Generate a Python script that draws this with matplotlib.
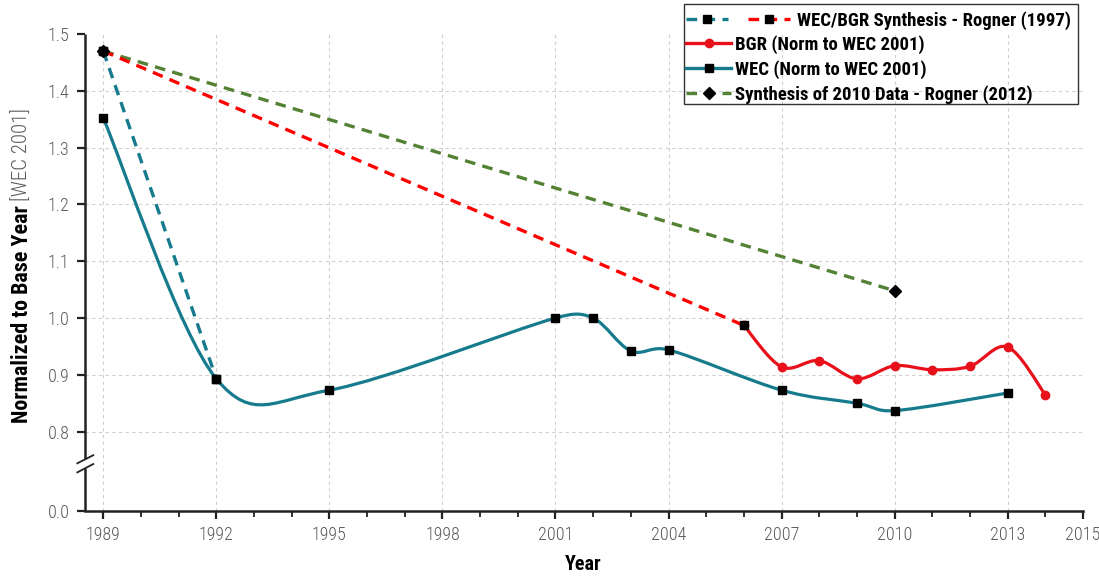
import numpy as np
import matplotlib
matplotlib.use('Agg')
import matplotlib.pyplot as plt
from matplotlib.path import Path
from matplotlib.patches import PathPatch, Rectangle
from matplotlib.lines import Line2D
from matplotlib.legend_handler import HandlerTuple

plt.rcParams['font.family'] = ['Roboto Condensed', 'Roboto', 'DejaVu Sans']

# --- data ---
wec_years = [1989, 1992, 1995, 2001, 2002, 2003, 2004, 2007, 2009, 2010, 2013]
wec_vals = [1.352, 0.893, 0.873, 1.000, 1.000, 0.942, 0.944, 0.873, 0.850, 0.837, 0.868]

bgr_years = [2006, 2007, 2008, 2009, 2010, 2011, 2012, 2013, 2014]
bgr_vals = [0.987, 0.914, 0.925, 0.893, 0.916, 0.909, 0.915, 0.949, 0.865]

syn97_wec_years = [1989, 1992]
syn97_wec_vals = [1.470, 0.893]
syn97_bgr_years = [1989, 2006]
syn97_bgr_vals = [1.470, 0.987]

syn12_years = [1989, 2010]
syn12_vals = [1.470, 1.048]

xtick_major = [1989, 1992, 1995, 1998, 2001, 2004, 2007, 2010, 2013, 2015]
ytick_vals = [0.8, 0.9, 1.0, 1.1, 1.2, 1.3, 1.4, 1.5]

TEAL = '#167b8d'
RED = '#ff0000'
RED2 = '#e8101a'
GREEN = '#548235'
GREY = '#595959'

W, H = 1099, 578
fig = plt.figure(figsize=(W / 100, H / 100), dpi=100)
ax = fig.add_axes([85 / W, 1 - 511 / H, 998 / W, 477 / H])

XMIN, XMAX = 1988.515, 2015
YBOT, YTOP = 0.6603, 1.5   # broken axis: YBOT stands for 0.0
ax.set_xlim(XMIN, XMAX)
ax.set_ylim(YBOT, YTOP)

sx = 998 / (XMAX - XMIN)
sy = 477 / (YTOP - YBOT)


def smooth_path(xs, ys):
    # excel-like smoothed line as bezier segments
    P = np.column_stack([np.asarray(xs, float) * sx, np.asarray(ys, float) * sy])
    n = len(P)
    verts = [P[0]]
    codes = [Path.MOVETO]
    for i in range(n - 1):
        p0 = P[i - 1] if i > 0 else P[i]
        p1, p2 = P[i], P[i + 1]
        p3 = P[i + 2] if i + 2 < n else P[i + 1]
        d12 = np.linalg.norm(p2 - p1)
        t1 = (p2 - p0) / 6
        t2 = (p3 - p1) / 6
        for t in (t1, t2):
            nt = np.linalg.norm(t)
            if nt > d12 / 2:
                t *= d12 / 2 / nt
        verts += [p1 + t1, p2 - t2, p2]
        codes += [Path.CURVE4] * 3
    verts = np.array(verts) / [sx, sy]
    return Path(verts, codes)


dash = (0, (3.2, 2.2))

# synthesis 2012
ax.plot(syn12_years, syn12_vals, color=GREEN, lw=2.4, ls=dash, zorder=3)
ax.plot(syn12_years, syn12_vals, ls='none', marker='D', ms=6.5, color='black', zorder=6)
# synthesis 1997
ax.plot(syn97_bgr_years, syn97_bgr_vals, color=RED, lw=2.4, ls=dash, zorder=3)
ax.plot(syn97_wec_years, syn97_wec_vals, color=TEAL, lw=2.4, ls=dash, zorder=3)

# smoothed series
ax.add_patch(PathPatch(smooth_path(wec_years, wec_vals), fill=False, edgecolor=TEAL,
                       lw=2.3, capstyle='round', zorder=4))
ax.add_patch(PathPatch(smooth_path(bgr_years, bgr_vals), fill=False, edgecolor=RED2,
                       lw=2.3, capstyle='round', zorder=4))
ax.plot(bgr_years, bgr_vals, ls='none', marker='o', ms=6, color=RED2, zorder=5)
ax.plot(wec_years, wec_vals, ls='none', marker='s', ms=5.5, color='black', zorder=6)
ax.plot(syn97_bgr_years, syn97_bgr_vals, ls='none', marker='s', ms=6, color='black', zorder=6)
ax.plot(syn97_wec_years, syn97_wec_vals, ls='none', marker='s', ms=6, color='black', zorder=6)

# axes styling
for s in ['top', 'right', 'left']:
    ax.spines[s].set_visible(False)
ax.spines['bottom'].set_linewidth(1.8)
ax.spines['bottom'].set_color('#222222')
ax.plot([0, 0], [0.109, 1.0], transform=ax.transAxes, color='#222222', lw=1.8,
        clip_on=False, solid_capstyle='butt')
ax.plot([0, 0], [0.0, 0.090], transform=ax.transAxes, color='#222222', lw=1.8,
        clip_on=False, solid_capstyle='butt')
ax.plot([-0.0077, 0.0083], [0.100, 0.117], transform=ax.transAxes, color='#222222',
        lw=1.3, clip_on=False)
ax.plot([-0.0077, 0.0083], [0.081, 0.0985], transform=ax.transAxes, color='#222222',
        lw=1.3, clip_on=False)

ax.set_xticks(xtick_major)
ax.set_xticklabels([str(y) for y in xtick_major])
ax.set_xticks(range(1989, 2016), minor=True)
ax.set_yticks([YBOT] + ytick_vals)
ax.set_yticklabels(['0.0'] + ['%.1f' % v for v in ytick_vals])
ax.tick_params(axis='both', which='major', direction='out', length=6, width=1.6,
               color='#222222', labelsize=13, labelcolor=GREY, pad=5)
ax.tick_params(axis='x', which='minor', direction='out', length=4, width=1.3, color='#222222')
for lab in ax.get_xticklabels() + ax.get_yticklabels():
    lab.set_fontweight('light')

ax.grid(True, which='major', color='#cfcfcf', lw=0.8, ls=(0, (3, 3)))
ax.xaxis.get_gridlines()[-1].set_visible(False)
ax.yaxis.get_gridlines()[0].set_visible(False)
ax.yaxis.get_gridlines()[-1].set_visible(False)
ax.set_axisbelow(True)

# labels
fig.text(583 / W, 1 - 564 / H, 'Year', ha='center', va='center', fontsize=14.5,
         fontweight='bold')
t1 = fig.text(22 / W, 1 - 423 / H, 'Normalized to Base Year', rotation=90,
              rotation_mode='anchor', ha='left', va='center', fontsize=15.8,
              fontweight='bold')
fig.canvas.draw()
bb = t1.get_window_extent(fig.canvas.get_renderer())
fig.text(22 / W, (bb.y1 + 4) / H, '[WEC 2001]', rotation=90, rotation_mode='anchor',
         ha='left', va='center', fontsize=15, color=GREY, fontweight='light')

# legend, built in two blocks inside one frame
h_teal = Line2D([], [], color=TEAL, lw=2.4, ls=dash, marker='s', ms=6, mfc='black', mec='black')
h_red = Line2D([], [], color=RED, lw=2.4, ls=dash, marker='s', ms=6, mfc='black', mec='black')
h_bgr = Line2D([], [], color=RED2, lw=2.4, marker='o', ms=6)
h_wec = Line2D([], [], color=TEAL, lw=2.4, marker='s', ms=5.5, mfc='black', mec='black')
h_syn = Line2D([], [], color=GREEN, lw=2.4, ls=dash, marker='D', ms=6.5, mfc='black', mec='black')

fs = 13.5
leg_kw = dict(frameon=False, borderpad=0, borderaxespad=0,
              labelspacing=0.33, loc='upper left',
              bbox_transform=fig.transFigure, prop={'weight': 'bold', 'size': fs})
fig.legend([(h_teal, h_red)], ['WEC/BGR Synthesis - Rogner (1997)'],
           handler_map={tuple: HandlerTuple(ndivide=None, pad=1.05)},
           handlelength=5.55, handletextpad=0.37,
           bbox_to_anchor=(686 / W, 1 - 11 / H), **leg_kw)
fig.legend([h_bgr, h_wec, h_syn],
           ['BGR (Norm to WEC 2001)', 'WEC (Norm to WEC 2001)',
            'Synthesis of 2010 Data - Rogner (2012)'],
           handlelength=2.4, handletextpad=0.2,
           bbox_to_anchor=(686 / W, 1 - 35 / H), **leg_kw)
fig.add_artist(Rectangle((684 / W, 1 - 104 / H), 394 / W, 100 / H,
                         transform=fig.transFigure, fill=False,
                         edgecolor='#333333', lw=1.0))

fig.savefig('out.png', dpi=100)
